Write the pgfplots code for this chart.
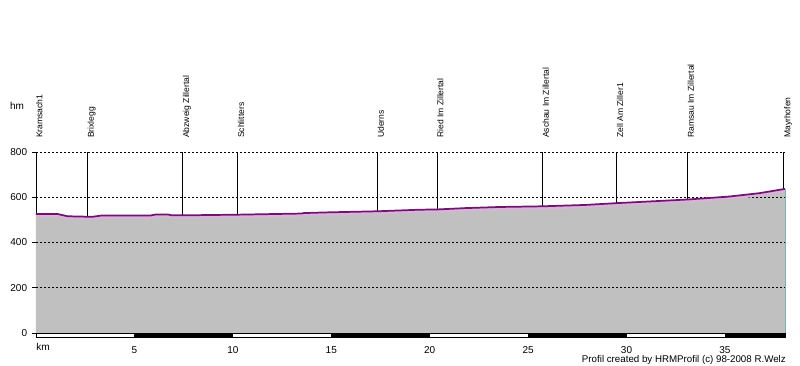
\documentclass[border=0pt]{standalone}
\usepackage{pgfplots}
\pgfplotsset{compat=1.18}
\usepackage{fontspec}
\setmainfont{Liberation Sans}
\definecolor{prof}{RGB}{110,22,110}
\definecolor{band}{RGB}{218,178,218}
\definecolor{fillg}{RGB}{192,192,192}
\definecolor{edge}{RGB}{120,180,180}
\begin{document}
\begin{tikzpicture}[x=1pt,y=1pt]
\path[use as bounding box] (-27,-24.75) rectangle (573,249.75);
\begin{axis}[
  at={(0pt,0pt)}, anchor=south west, scale only axis,
  width=561.75pt, height=135.75pt,
  xmin=0, xmax=38.05, ymin=0, ymax=800,
  clip=false,
  axis lines=left,
  axis line style={-},
  x axis line style={draw=none},
  y axis line style={black, line width=0.6pt},
  xtick={5,10,15,20,25,30,35},
  ytick={0,200,400,600,800},
  xtick style={draw=none},
  ytick style={black, line width=0.6pt},
  tick align=outside,
  major tick length=3pt,
  /pgf/number format/assume math mode=true,
  tick label style={font=\fontsize{7.5}{8}\selectfont},
  yticklabel style={anchor=east, inner sep=0pt, xshift=-3.5pt},
  xticklabel style={anchor=north, inner sep=0pt, yshift=-7.3pt},
]
% profile area
\addplot[fill=fillg, draw=none] coordinates {
(0,526) (1.1,526) (1.3,522) (1.6,516) (2.61,514) (2.9,514) (3.3,519) (5.8,519)
(6.1,524) (6.7,524) (6.9,520) (7.45,520) (10.24,523) (13.5,528) (13.6,530) (14.7,533)
(17.35,538) (19.5,545) (20.37,546) (21.8,552) (23.55,557) (25.73,560) (27.9,566)
(29.5,574) (33.09,590) (35.2,603) (36.75,618) (38.05,637)} \closedcycle;
% grid
\addplot[black, line width=0.5pt, dash pattern=on 1.5pt off 1.5pt] coordinates {(0,200)(38.05,200)};
\addplot[black, line width=0.5pt, dash pattern=on 1.5pt off 1.5pt] coordinates {(0,400)(38.05,400)};
\addplot[black, line width=0.5pt, dash pattern=on 1.5pt off 1.5pt] coordinates {(0,600)(38.05,600)};
\addplot[black, line width=0.5pt, dash pattern=on 1.5pt off 1.5pt] coordinates {(0,800)(38.05,800)};
% town lines
\addplot[black, line width=0.6pt] coordinates {(2.61,800)(2.61,514)};
\addplot[black, line width=0.6pt] coordinates {(7.45,800)(7.45,520)};
\addplot[black, line width=0.6pt] coordinates {(10.24,800)(10.24,523)};
\addplot[black, line width=0.6pt] coordinates {(17.35,800)(17.35,538)};
\addplot[black, line width=0.6pt] coordinates {(20.37,800)(20.37,546)};
\addplot[black, line width=0.6pt] coordinates {(25.73,800)(25.73,560)};
\addplot[black, line width=0.6pt] coordinates {(29.5,800)(29.5,574)};
\addplot[black, line width=0.6pt] coordinates {(33.09,800)(33.09,590)};
\addplot[black, line width=0.6pt] coordinates {(37.99,800)(37.99,637)};
% pink band and profile line
\addplot[band, line width=2pt, yshift=-1.4pt] coordinates {
(0,526) (1.1,526) (1.3,522) (1.6,516) (2.61,514) (2.9,514) (3.3,519) (5.8,519)
(6.1,524) (6.7,524) (6.9,520) (7.45,520) (10.24,523) (13.5,528) (13.6,530) (14.7,533)
(17.35,538) (19.5,545) (20.37,546) (21.8,552) (23.55,557) (25.73,560) (27.9,566)
(29.5,574) (33.09,590) (35.2,603) (36.75,618) (38.05,637)};
\addplot[prof, line width=1.3pt] coordinates {
(0,526) (1.1,526) (1.3,522) (1.6,516) (2.61,514) (2.9,514) (3.3,519) (5.8,519)
(6.1,524) (6.7,524) (6.9,520) (7.45,520) (10.24,523) (13.5,528) (13.6,530) (14.7,533)
(17.35,538) (19.5,545) (20.37,546) (21.8,552) (23.55,557) (25.73,560) (27.9,566)
(29.5,574) (33.09,590) (35.2,603) (36.75,618) (38.05,637)};
\addplot[edge, line width=0.6pt] coordinates {(38.05,0)(38.05,637)};
% scale bar
\draw[black, line width=0.5pt, fill=white] (axis cs:0,0) rectangle ([yshift=-3pt]axis cs:38.05,0);
\fill[black] (axis cs:5,0) rectangle ([yshift=-3pt]axis cs:10,0);
\fill[black] (axis cs:15,0) rectangle ([yshift=-3pt]axis cs:20,0);
\fill[black] (axis cs:25,0) rectangle ([yshift=-3pt]axis cs:30,0);
\fill[black] (axis cs:35,0) rectangle ([yshift=-3pt]axis cs:38.05,0);
% town labels
\begin{scope}[every node/.style={rotate=90, anchor=north west, inner sep=0pt, font=\fontsize{6.4}{7}\selectfont}]
\node at ([yshift=10.5pt]axis cs:0,800) {Kramsach1};
\node at ([yshift=10.5pt]axis cs:2.61,800) {Brixlegg};
\node at ([yshift=10.5pt]axis cs:7.45,800) {Abzweig Zillertal};
\node at ([yshift=10.5pt]axis cs:10.24,800) {Schlitters};
\node at ([yshift=10.5pt]axis cs:17.35,800) {Uderns};
\node at ([yshift=10.5pt]axis cs:20.37,800) {Ried Im Zillertal};
\node at ([yshift=10.5pt]axis cs:25.73,800) {Aschau Im Zillertal};
\node at ([yshift=10.5pt]axis cs:29.5,800) {Zell Am Ziller1};
\node at ([yshift=10.5pt]axis cs:33.09,800) {Ramsau Im Zillertal};
\node at ([yshift=10.5pt]axis cs:37.99,800) {Mayrhofen};
\end{scope}
\node[font=\fontsize{7.5}{8}\selectfont] at ([xshift=-14.25pt, yshift=34.5pt]axis cs:0,800) {hm};
\node[anchor=north west, inner sep=0pt, font=\fontsize{7.5}{8}\selectfont] at ([yshift=-7.3pt]axis cs:0,0) {km};
\node[anchor=base east, inner sep=0pt, font=\fontsize{7.3}{8}\selectfont] at ([xshift=0.75pt, yshift=-22.1pt]axis cs:38.05,0) {Profil created by HRMProfil (c) 98-2008 R.Welz};
\end{axis}
\end{tikzpicture}
\end{document}
